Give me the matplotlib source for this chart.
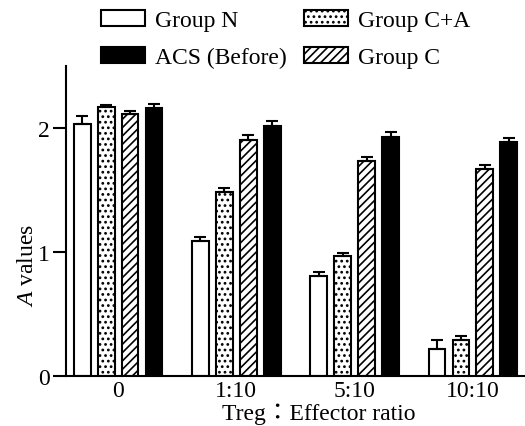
import numpy as np
import matplotlib
matplotlib.use("Agg")
import matplotlib.pyplot as plt

plt.rcParams["font.family"] = ["Liberation Serif", "Noto Sans CJK JP"]
plt.rcParams["mathtext.fontset"] = "custom"
plt.rcParams["mathtext.it"] = "Liberation Serif:italic"
plt.rcParams["mathtext.rm"] = "Liberation Serif"
plt.rcParams["hatch.linewidth"] = 1.2

# data
ratios = ["0", "1:10", "5:10", "10:10"]
group_names = ["Group N", "Group C+A", "Group C", "ACS (Before)"]
group_n = [2.03, 1.085, 0.81, 0.22]
group_ca = [2.17, 1.48, 0.97, 0.29]
group_c = [2.11, 1.90, 1.73, 1.67]
acs_before = [2.16, 2.02, 1.93, 1.89]
err_n = [0.07, 0.035, 0.025, 0.07]
err_ca = [0.015, 0.035, 0.02, 0.035]
err_c = [0.025, 0.04, 0.035, 0.03]
err_acs = [0.03, 0.035, 0.035, 0.03]

values = [group_n, group_ca, group_c, acs_before]
errors = [err_n, err_ca, err_c, err_acs]
faces = ["white", "white", "white", "black"]
hatches = [None, "...", "////", None]

fs = 17
fig = plt.figure(figsize=(5.25, 4.27), dpi=100)
ax = fig.add_axes([66 / 525, 50 / 427, 459 / 525, 310 / 427])

x = np.arange(len(ratios))
slot = 0.2025
width = 0.143
handles = []
for i in range(4):
    pos = x + (i - 1.5) * slot
    b = ax.bar(pos, values[i], width, color=faces[i], edgecolor="black",
               linewidth=1.5, hatch=hatches[i], label=group_names[i], zorder=2)
    handles.append(b)
    ax.errorbar(pos, values[i], yerr=[np.zeros(4), errors[i]], fmt="none",
                ecolor="black", elinewidth=1.5, capsize=4, capthick=1.5, zorder=3)

ax.set_xlim(-0.44, 3.44)
ax.set_ylim(0, 2.5)
ax.set_yticks([0, 1, 2])
ax.set_xticks(x)
ax.set_xticklabels(ratios)
ax.tick_params(axis="x", length=0, labelsize=fs, pad=3)
ax.tick_params(axis="y", length=9.5, width=1.5, labelsize=fs, direction="out", pad=2)
ax.spines["top"].set_visible(False)
ax.spines["right"].set_visible(False)
ax.spines["left"].set_linewidth(1.5)
ax.spines["bottom"].set_linewidth(1.5)

ax.set_ylabel(r"$A$ values", fontsize=fs)
ax.yaxis.set_label_coords(-0.06, 0.36)
ax.set_xlabel("Treg\uff1aEffector ratio", fontsize=fs)
ax.xaxis.set_label_coords(0.551, -0.085)

order = [0, 3, 1, 2]
fig.legend([handles[k] for k in order], [group_names[k] for k in order],
           loc="upper left", bbox_to_anchor=(101 / 525, 1 - 11 / 427), ncol=2,
           frameon=False, fontsize=fs, handlelength=1.86, handleheight=0.64,
           columnspacing=0.75, handletextpad=0.42, labelspacing=0.68,
           borderpad=0, borderaxespad=0)

fig.savefig("out.png", dpi=100)
